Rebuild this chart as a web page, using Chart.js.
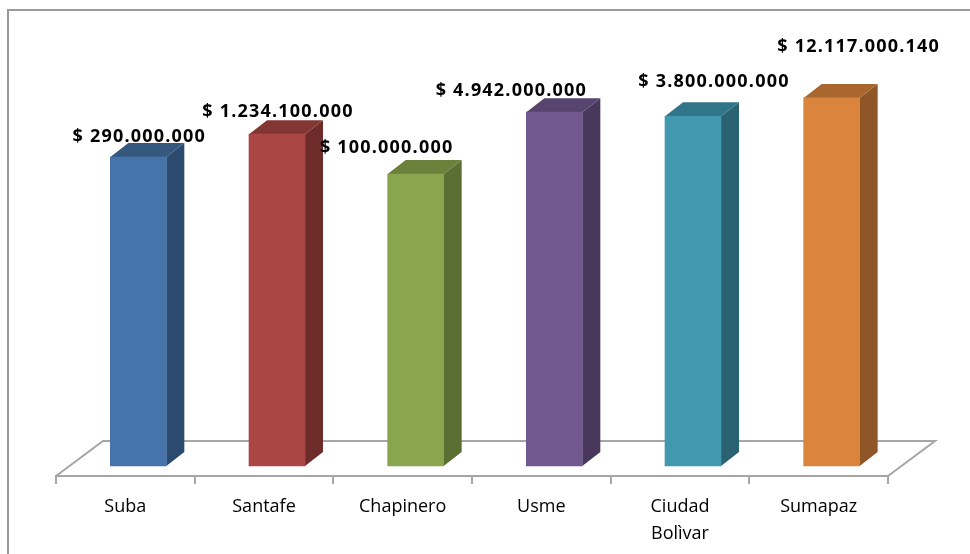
<!DOCTYPE html>
<html>
<head>
<meta charset="utf-8">
<title>Suba, Santafe, Chapinero</title>
<script src="https://cdn.jsdelivr.net/npm/chart.js@4"></script>
<style>
html, body { margin: 0; padding: 0; background: #fff; }
canvas { display: block; }
</style>
</head>
<body>
<canvas id="chart" width="970" height="554"></canvas>
<script>
const localidades = ['Suba', 'Santafe', 'Chapinero', 'Usme', ['Ciudad', 'Bolìvar'], 'Sumapaz'];
const inversion = [290000000, 1234100000, 100000000, 4942000000, 3800000000, 12117000140];
const colorFrente = ['#4674AA', '#AA4643', '#89A54E', '#71588F', '#4198AF', '#DB843D'];
const colorLado = ['#2C4A6E', '#6D2C2A', '#5B6E33', '#48385C', '#2A6272', '#8F5628'];
const colorTecho = ['#35587F', '#833735', '#6A803B', '#57446F', '#317588', '#A9662F'];
// desplazamiento de cada etiqueta respecto al techo de su barra
const etiquetaDx = [1, 1, -29, -43, 21, 27];
const etiquetaDy = [-20, -22, -26, -21, -34, -51];

const GRIS = '#A6A6A6';
const FUENTE = '"Open Sans", "Noto Sans", sans-serif';
const BARRA_X = 13;   // las barras van corridas a la derecha de su categoria
const FONDO_X = 18;   // profundidad de la barra
const FONDO_Y = 14;
const PISO_X = 47;    // profundidad del piso
const PISO_Y = 35;

function formatoPesos(valor) {
    return '$ ' + String(valor).replace(/\B(?=(\d{3})+$)/g, '.');
}

function poligono(ctx, puntos, color) {
    ctx.fillStyle = color;
    ctx.beginPath();
    puntos.forEach((p, i) => i ? ctx.lineTo(p[0], p[1]) : ctx.moveTo(p[0], p[1]));
    ctx.closePath();
    ctx.fill();
}

const barras3d = {
    id: 'barras3d',
    afterDatasetsUpdate(chart) {
        chart.getDatasetMeta(0).data.forEach(bar => { bar.x += BARRA_X; });
    },
    beforeDraw(chart) {
        // marco del grafico: solo arriba y a la izquierda
        const { ctx, width, height } = chart;
        ctx.save();
        ctx.strokeStyle = '#9A9A9A';
        ctx.lineWidth = 2;
        ctx.beginPath();
        ctx.moveTo(8, height);
        ctx.lineTo(8, 10);
        ctx.lineTo(width, 10);
        ctx.stroke();
        ctx.restore();
    },
    beforeDatasetsDraw(chart) {
        const { ctx, chartArea: a } = chart;
        // piso
        ctx.save();
        ctx.strokeStyle = GRIS;
        ctx.lineWidth = 2;
        ctx.beginPath();
        ctx.moveTo(a.left, a.bottom);
        ctx.lineTo(a.left + PISO_X, a.bottom - PISO_Y);
        ctx.lineTo(a.right + PISO_X, a.bottom - PISO_Y);
        ctx.lineTo(a.right, a.bottom);
        ctx.stroke();
        // lado y techo de cada barra
        chart.getDatasetMeta(0).data.forEach((bar, i) => {
            const w = bar.width / 2;
            const der = bar.x + w, izq = bar.x - w;
            poligono(ctx, [[der, bar.y], [der + FONDO_X, bar.y - FONDO_Y],
                [der + FONDO_X, bar.base - FONDO_Y], [der, bar.base]], colorLado[i]);
            poligono(ctx, [[izq, bar.y], [izq + FONDO_X, bar.y - FONDO_Y],
                [der + FONDO_X, bar.y - FONDO_Y], [der, bar.y]], colorTecho[i]);
        });
        ctx.restore();
    },
    afterDatasetsDraw(chart) {
        const { ctx } = chart;
        ctx.save();
        ctx.font = 'bold 18px ' + FUENTE;
        ctx.letterSpacing = '1.2px';
        ctx.fillStyle = '#000';
        ctx.textAlign = 'center';
        ctx.textBaseline = 'middle';
        chart.getDatasetMeta(0).data.forEach((bar, i) => {
            ctx.fillText(formatoPesos(inversion[i]), bar.x + etiquetaDx[i], bar.y + etiquetaDy[i]);
        });
        ctx.restore();
    }
};

new Chart(document.getElementById('chart'), {
    type: 'bar',
    data: {
        labels: localidades,
        datasets: [{
            data: inversion,
            base: 1,
            backgroundColor: colorFrente,
            borderWidth: 0,
            barThickness: 56
        }]
    },
    options: {
        responsive: false,
        animation: false,
        layout: { padding: { left: 56, right: 82, top: 28, bottom: 0 } },
        plugins: {
            legend: { display: false },
            title: { display: false },
            tooltip: { enabled: false }
        },
        scales: {
            x: {
                afterFit(axis) { axis.height = 78; },
                border: { color: GRIS, width: 2 },
                grid: { drawOnChartArea: false, color: GRIS, lineWidth: 2, tickLength: 8 },
                ticks: {
                    autoSkip: false,
                    maxRotation: 0,
                    padding: 9,
                    color: '#000',
                    font: { family: FUENTE, size: 18, lineHeight: 1.5 }
                }
            },
            y: {
                type: 'logarithmic',
                display: false,
                min: 0.53,
                max: 1000000000000
            }
        }
    },
    plugins: [barras3d]
});
</script>
</body>
</html>
